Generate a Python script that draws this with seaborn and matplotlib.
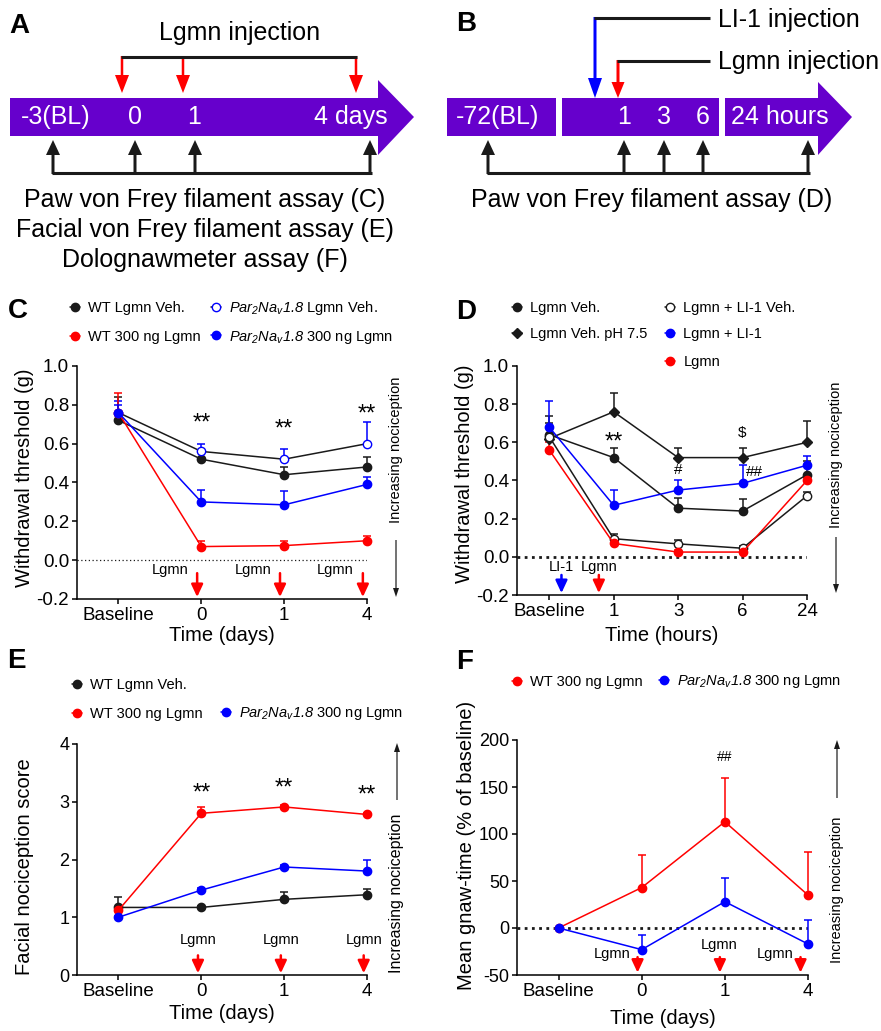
import numpy as np
import seaborn as sns
import matplotlib.pyplot as plt
from matplotlib.patches import FancyArrow, Polygon, Rectangle

sns.set_theme(style='ticks')
plt.rcParams['font.family'] = ['Liberation Sans', 'DejaVu Sans']
plt.rcParams['mathtext.fontset'] = 'custom'
plt.rcParams['mathtext.rm'] = 'Liberation Sans:italic'
plt.rcParams['mathtext.it'] = 'Liberation Sans:italic'
plt.rcParams['axes.unicode_minus'] = False
for k in ['text.color', 'axes.labelcolor', 'xtick.color', 'ytick.color', 'axes.edgecolor']:
    plt.rcParams[k] = 'black'

RED, BLUE, PURPLE = '#ff0000', '#0000ff', '#6600cc'
PAR = r'$\mathit{Par}_{2}\mathit{Na}_{v}1.8$'

# ---- data: panel C (paw von Frey, days)
c_x = ['Baseline', '0', '1', '4']
c_wt_veh = [0.72, 0.52, 0.44, 0.48]
c_wt_veh_sem = [0.12, 0.04, 0.04, 0.05]
c_par_veh = [0.76, 0.56, 0.52, 0.60]
c_par_veh_sem = [0.06, 0.04, 0.05, 0.11]
c_wt_300 = [0.76, 0.07, 0.075, 0.10]
c_wt_300_sem = [0.10, 0.03, 0.025, 0.025]
c_par_300 = [0.76, 0.30, 0.285, 0.39]
c_par_300_sem = [0.04, 0.06, 0.07, 0.04]
c_stars = [(1, 0.73), (2, 0.70), (3, 0.78)]

# ---- data: panel D (paw von Frey, hours)
d_x = ['Baseline', '1', '3', '6', '24']
d_veh = [0.64, 0.52, 0.255, 0.24, 0.43]
d_veh_sem = [0.06, 0.05, 0.055, 0.065, 0.07]
d_veh_ph = [0.62, 0.76, 0.52, 0.52, 0.60]
d_veh_ph_sem = [0.12, 0.10, 0.05, 0.05, 0.11]
d_li1_veh = [0.63, 0.095, 0.068, 0.045, 0.32]
d_li1_veh_sem = [0.05, 0.025, 0.02, 0.01, 0.02]
d_li1 = [0.68, 0.27, 0.35, 0.385, 0.48]
d_li1_sem = [0.135, 0.08, 0.05, 0.095, 0.05]
d_lgmn = [0.56, 0.07, 0.025, 0.025, 0.40]
d_lgmn_sem = [0.04, 0.02, 0.01, 0.01, 0.03]
d_marks = [('**', 1, 0.63, 17, -4), ('#', 2, 0.455, 11, 0), ('$', 3, 0.65, 11, 0), ('##', 3.18, 0.446, 11, 0)]

# ---- data: panel E (facial score)
e_x = ['Baseline', '0', '1', '4']
e_wt_veh = [1.17, 1.17, 1.31, 1.39]
e_wt_veh_sem = [0.18, 0.03, 0.12, 0.10]
e_wt_300 = [1.12, 2.80, 2.91, 2.78]
e_wt_300_sem = [0.05, 0.11, 0.03, 0.03]
e_par_300 = [1.00, 1.47, 1.87, 1.80]
e_par_300_sem = [0.02, 0.03, 0.03, 0.19]
e_stars = [(1, 3.24), (2, 3.32), (3, 3.20)]

# ---- data: panel F (gnaw time)
f_x = ['Baseline', '0', '1', '4']
f_wt_300 = [0, 43, 113, 35]
f_wt_300_sem = [0, 35, 47, 46]
f_par_300 = [0, -23, 28, -17]
f_par_300_sem = [0, 15.5, 25.5, 25]

W, H = 881, 1031
fig = plt.figure(figsize=(W / 100, H / 100), dpi=100)


def rect(l, t, r, b):
    return [l / W, 1 - b / H, (r - l) / W, (b - t) / H]


def series(ax, y, sem, color, marker='o', face=None, edge=None, ms=6, ecolor=None):
    x = np.arange(len(y))
    eb = ax.errorbar(x, y, yerr=[np.zeros(len(y)), sem], fmt='none', ecolor=ecolor or color,
                     elinewidth=1.1, capsize=3, capthick=1.1, zorder=2)
    for a in list(eb.lines[1]) + list(eb.lines[2]):
        a.set_clip_on(False)
    sns.lineplot(x=x, y=y, ax=ax, color=color, marker=marker, markersize=ms,
                 markerfacecolor=face or color, markeredgecolor=edge or color,
                 markeredgewidth=1.0, linewidth=1.1, errorbar=None, clip_on=False, zorder=3)
    return ax.lines[-1]


def style(ax, labels, ylim, yticks, fmt, ylabel, xlabel, ylx, yly, xly, ytsize=13.5):
    n = len(labels)
    ax.set_xlim(-0.5, n - 1)
    ax.set_ylim(*ylim)
    ax.set_xticks(range(n))
    ax.set_xticklabels(labels)
    ax.set_yticks(yticks)
    ax.set_yticklabels([fmt.format(v) for v in yticks])
    sns.despine(ax=ax)
    for s in ['left', 'bottom']:
        ax.spines[s].set_linewidth(1.1)
    ax.tick_params(length=3.6, width=1.1, pad=2)
    ax.tick_params(axis='x', labelsize=13.5)
    ax.tick_params(axis='y', labelsize=ytsize)
    ax.set_ylabel(ylabel, fontsize=14.5)
    ax.set_xlabel(xlabel, fontsize=14.5)
    ax.yaxis.set_label_coords(ylx, yly)
    ax.xaxis.set_label_coords(0.5, xly)
    ax.set_facecolor('none')


def legend_entry(handle, label, mx, my, fs=10.5):
    hl = 0.72
    x0 = mx - hl * fs * 100 / 72 / 2
    fig.legend([handle], [label], loc='center left', bbox_to_anchor=(x0 / W, 1 - my / H),
               bbox_transform=fig.transFigure, frameon=False, fontsize=fs, handlelength=hl,
               handletextpad=0.55, borderpad=0, borderaxespad=0)


def down_arrow(ax, x, y0, y1, color):
    ax.annotate('', xy=(x, y1), xytext=(x, y0),
                arrowprops=dict(arrowstyle='-|>,head_width=0.35,head_length=0.75', color=color,
                                lw=1.8, shrinkA=0, shrinkB=0, mutation_scale=10),
                annotation_clip=False)


# ---- panel C
axc = fig.add_axes(rect(77, 366, 367, 599))
axc.plot([-0.5, 3], [0, 0], color='k', lw=0.9, ls=(0, (1, 2)), zorder=1)
h_c1 = series(axc, c_wt_veh, c_wt_veh_sem, 'k')
h_c2 = series(axc, c_par_veh, c_par_veh_sem, 'k', face='white', edge=BLUE, ecolor=BLUE)
h_c3 = series(axc, c_wt_300, c_wt_300_sem, RED)
h_c4 = series(axc, c_par_300, c_par_300_sem, BLUE)
style(axc, c_x, (-0.2, 1.0), [-0.2, 0, 0.2, 0.4, 0.6, 0.8, 1.0], '{:.1f}',
      'Withdrawal threshold (g)', 'Time (days)', -0.148, 0.52, -0.116)
for x, y in c_stars:
    axc.annotate('**', (x, y), xytext=(0, -4), textcoords='offset points', ha='center', va='center', fontsize=17)
for x in [1, 2, 3]:
    axc.text(x - 0.38, -0.05, 'Lgmn', ha='center', va='center', fontsize=10.5)
    down_arrow(axc, x - 0.05, -0.067, -0.19, RED)
legend_entry(h_c1, 'WT Lgmn Veh.', 75, 308)
legend_entry(h_c3, 'WT 300 ng Lgmn', 75, 337)
legend_entry(h_c2, PAR + ' Lgmn Veh.', 216, 308)
legend_entry(h_c4, PAR + ' 300 ng Lgmn', 216, 337)

# ---- panel D
axd = fig.add_axes(rect(517, 366, 807, 595))
axd.plot([-0.5, 4], [0, 0], color='k', lw=2, ls=(0, (1, 1.6)), zorder=1)
h_d1 = series(axd, d_veh, d_veh_sem, 'k')
h_d2 = series(axd, d_veh_ph, d_veh_ph_sem, 'k', marker='D', ms=5)
h_d3 = series(axd, d_li1_veh, d_li1_veh_sem, 'k', face='white', edge='k')
h_d4 = series(axd, d_li1, d_li1_sem, BLUE)
h_d5 = series(axd, d_lgmn, d_lgmn_sem, RED)
style(axd, d_x, (-0.2, 1.0), [-0.2, 0, 0.2, 0.4, 0.6, 0.8, 1.0], '{:.1f}',
      'Withdrawal threshold (g)', 'Time (hours)', -0.148, 0.53, -0.135)
for s, x, y, fs, off in d_marks:
    axd.annotate(s, (x, y), xytext=(0, off), textcoords='offset points', ha='center', va='center', fontsize=fs)
axd.text(0.19, -0.055, 'LI-1', ha='center', va='center', fontsize=10.5)
axd.text(0.78, -0.055, 'Lgmn', ha='center', va='center', fontsize=10.5)
down_arrow(axd, 0.19, -0.095, -0.19, BLUE)
down_arrow(axd, 0.77, -0.095, -0.19, RED)
legend_entry(h_d1, 'Lgmn Veh.', 517, 308)
legend_entry(h_d2, 'Lgmn Veh. pH 7.5', 517, 334)
legend_entry(h_d3, 'Lgmn + LI-1 Veh.', 670, 308)
legend_entry(h_d4, 'Lgmn + LI-1', 670, 334)
legend_entry(h_d5, 'Lgmn', 670, 362)

# ---- panel E
axe = fig.add_axes(rect(77, 744, 367, 975))
h_e1 = series(axe, e_wt_veh, e_wt_veh_sem, 'k')
h_e2 = series(axe, e_wt_300, e_wt_300_sem, RED)
h_e3 = series(axe, e_par_300, e_par_300_sem, BLUE)
style(axe, e_x, (0, 4), [0, 1, 2, 3, 4], '{:d}', 'Facial nociception score', 'Time (days)',
      -0.148, 0.47, -0.126, ytsize=13)
for x, y in e_stars:
    axe.annotate('**', (x, y), xytext=(0, -4), textcoords='offset points', ha='center', va='center', fontsize=17)
for x in [1, 2, 3]:
    axe.text(x - 0.04, 0.60, 'Lgmn', ha='center', va='center', fontsize=10.5)
    down_arrow(axe, x - 0.04, 0.34, 0.03, RED)
legend_entry(h_e1, 'WT Lgmn Veh.', 77, 685)
legend_entry(h_e2, 'WT 300 ng Lgmn', 77, 714)
legend_entry(h_e3, PAR + ' 300 ng Lgmn', 226, 714)

# ---- panel F
axf = fig.add_axes(rect(517, 740, 808, 975))
axf.plot([-0.5, 3], [0, 0], color='k', lw=2, ls=(0, (1, 1.6)), zorder=1)
h_f1 = series(axf, f_wt_300, f_wt_300_sem, RED)
h_f2 = series(axf, f_par_300, f_par_300_sem, BLUE)
style(axf, f_x, (-50, 200), [-50, 0, 50, 100, 150, 200], '{:d}', 'Mean gnaw-time (% of baseline)',
      'Time (days)', -0.141, 0.55, -0.146, ytsize=13)
axf.text(2, 182, '##', ha='center', va='center', fontsize=10)
for tx, ty, ax_ in [(0.64, -27.7, 0.95), (1.93, -17.8, 1.94), (2.60, -27.7, 2.91)]:
    axf.text(tx, ty, 'Lgmn', ha='center', va='center', fontsize=10.5)
    down_arrow(axf, ax_, -31, -47.5, RED)
legend_entry(h_f1, 'WT 300 ng Lgmn', 517, 682)
legend_entry(h_f2, PAR + ' 300 ng Lgmn', 664, 682)

# ---- overlay in pixel coordinates: schematics, letters, side notes
ov = fig.add_axes([0, 0, 1, 1])
ov.set_xlim(0, W)
ov.set_ylim(H, 0)
ov.axis('off')

for letter, x, y in [('A', 9, 26), ('B', 456, 24), ('C', 8, 311), ('D', 456, 312), ('E', 7, 661), ('F', 456, 662)]:
    ov.text(x, y, letter, fontsize=20, fontweight='bold', ha='left', va='center')

# panel A schematic
a_ticks = ['-3(BL)', '0', '1', '4 days']
a_tick_x = [56, 135, 194, 351]
a_inject_x = [122, 183, 356]
a_assay_x = [53, 135, 195, 370]
a_assays = ['Paw von Frey filament assay (C)', 'Facial von Frey filament assay (E)', 'Dolognawmeter assay (F)']

ov.add_patch(Polygon([(10, 98), (378, 98), (378, 80), (414, 117), (378, 155), (378, 136), (10, 136)],
                     closed=True, facecolor=PURPLE, lw=0))
for t, x in zip(a_ticks, a_tick_x):
    ov.text(x, 117, t, color='white', fontsize=18, ha='center', va='center')
ov.plot([a_inject_x[0] - 1.2, a_inject_x[-1] + 1.2], [57, 57], color='k', lw=2.2, solid_capstyle='butt')
for x in a_inject_x:
    ov.add_patch(FancyArrow(x, 56, 0, 37, width=2.5, head_width=14, head_length=18,
                            length_includes_head=True, facecolor=RED, lw=0))
ov.text(240, 33, 'Lgmn injection', fontsize=18, ha='center', va='center')
ov.plot([a_assay_x[0] - 1.5, a_assay_x[-1] + 1.5], [173, 173], color='k', lw=2.2, solid_capstyle='butt')
for x in a_assay_x:
    ov.add_patch(FancyArrow(x, 174, 0, -34, width=3, head_width=14, head_length=15,
                            length_includes_head=True, facecolor='k', lw=0))
for i, t in enumerate(a_assays):
    ov.text(205, 200 + 30 * i, t, fontsize=18, ha='center', va='center')

# panel B schematic
b_ticks = ['-72(BL)', '1', '3', '6', '24 hours']
b_tick_x = [498, 624, 664, 703, 780]
b_assay_x = [488, 624, 664, 703, 808]

ov.add_patch(Rectangle((447, 98), 109, 38, facecolor=PURPLE, lw=0))
ov.add_patch(Rectangle((562, 98), 157, 38, facecolor=PURPLE, lw=0))
ov.add_patch(Polygon([(725, 98), (818, 98), (818, 82), (852, 117), (818, 155), (818, 136), (725, 136)],
                     closed=True, facecolor=PURPLE, lw=0))
for t, x in zip(b_ticks, b_tick_x):
    ov.text(x, 117, t, color='white', fontsize=18, ha='center', va='center')
ov.plot([594, 710], [18, 18], color='k', lw=2.2, solid_capstyle='butt')
ov.add_patch(FancyArrow(595, 17, 0, 81, width=3, head_width=14, head_length=20,
                        length_includes_head=True, facecolor=BLUE, lw=0))
ov.plot([617, 710], [61, 61], color='k', lw=2.2, solid_capstyle='butt')
ov.add_patch(FancyArrow(618, 60, 0, 38, width=3, head_width=13, head_length=16,
                        length_includes_head=True, facecolor=RED, lw=0))
ov.text(718, 20, 'LI-1 injection', fontsize=18, ha='left', va='center')
ov.text(718, 62, 'Lgmn injection', fontsize=18, ha='left', va='center')
ov.plot([b_assay_x[0] - 1.5, b_assay_x[-1] + 1.5], [173, 173], color='k', lw=2.2, solid_capstyle='butt')
for x in b_assay_x:
    ov.add_patch(FancyArrow(x, 174, 0, -34, width=3, head_width=14, head_length=15,
                            length_includes_head=True, facecolor='k', lw=0))
ov.text(652, 200, 'Paw von Frey filament assay (D)', fontsize=18, ha='center', va='center')

# "Increasing nociception" side notes
for x, yc, y0, y1, fs in [(396, 450, 540, 597, 10.5), (836, 455, 537, 593, 10.5),
                          (397, 893, 800, 743, 11.5), (837, 890, 798, 740, 10.5)]:
    ov.text(x, yc, 'Increasing nociception', rotation=90, fontsize=fs, ha='center', va='center')
    ov.add_patch(FancyArrow(x, y0, 0, y1 - y0, width=1.2, head_width=6, head_length=9,
                            length_includes_head=True, facecolor='k', lw=0))

fig.savefig('out.png', dpi=100)
